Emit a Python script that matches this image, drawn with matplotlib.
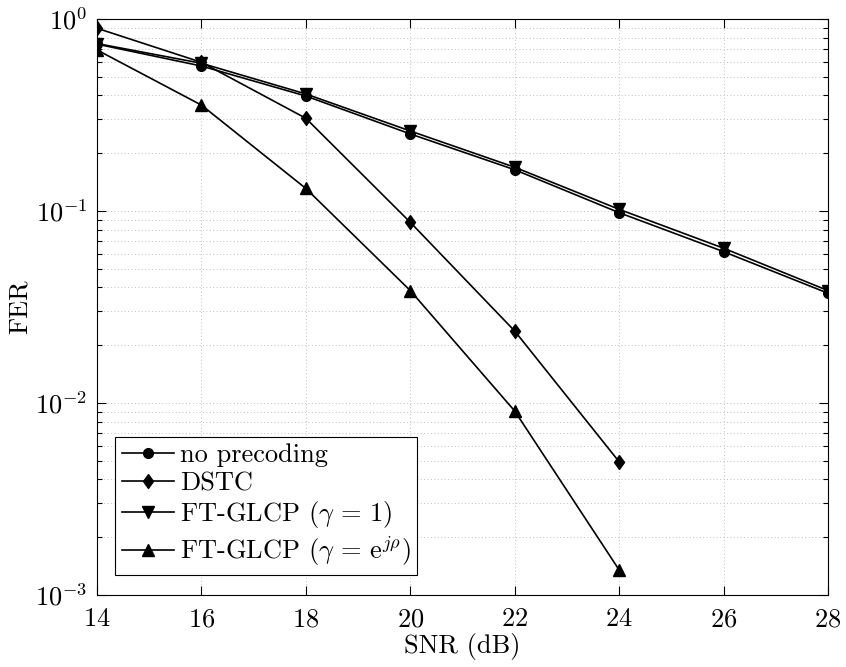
import numpy as np
import matplotlib
matplotlib.use("Agg")
import matplotlib.pyplot as plt
from matplotlib.ticker import LogLocator, NullFormatter

plt.rcParams['font.family'] = 'serif'
plt.rcParams['font.serif'] = ['cmr10', 'DejaVu Serif']
plt.rcParams['mathtext.fontset'] = 'cm'
plt.rcParams['axes.formatter.use_mathtext'] = True
plt.rcParams['font.size'] = 19

snr = [14, 16, 18, 20, 22, 24, 26, 28]
snr_short = [14, 16, 18, 20, 22, 24]

fer_noprec = [0.74, 0.569, 0.397, 0.252, 0.164, 0.098, 0.0614, 0.0373]
fer_dstc = [0.895, 0.595, 0.304, 0.0873, 0.0237, 0.00494]
fer_glcp1 = [0.745, 0.588, 0.407, 0.261, 0.169, 0.102, 0.064, 0.0385]
fer_glcp_rho = [0.69, 0.356, 0.131, 0.0385, 0.00908, 0.00135]

fig = plt.figure(figsize=(8.46, 6.67), dpi=100)
ax = fig.add_axes([0.1147, 0.108, 0.8640, 0.8635])

diamond = [(0, 1), (0.72, 0), (0, -1), (-0.72, 0), (0, 1)]
style = dict(color='k', lw=1.2, mfc='k', mec='k')
ax.semilogy(snr, fer_noprec, marker='o', ms=7, label='no precoding', **style)
ax.semilogy(snr_short, fer_dstc, marker=diamond, ms=10, label='DSTC', **style)
ax.semilogy(snr, fer_glcp1, marker='v', ms=8, label=r'FT-GLCP ($\gamma\,=\,1$)', **style)
ax.semilogy(snr_short, fer_glcp_rho, marker='^', ms=8,
            label=r'FT-GLCP ($\gamma\,=\,\mathrm{e}^{j\rho}$)', **style)

ax.set_xlim(14, 28)
ax.set_ylim(1e-3, 1)
ax.set_xticks(snr)
ax.yaxis.set_minor_locator(LogLocator(base=10, subs=np.arange(2, 10)))
ax.yaxis.set_minor_formatter(NullFormatter())

ax.tick_params(which='both', direction='in', top=True, right=True)
ax.tick_params(which='major', length=6.5, width=0.8)
ax.tick_params(which='minor', length=3.5, width=0.8)
ax.tick_params(axis='x', which='minor', bottom=False, top=False)
ax.tick_params(axis='x', which='major', pad=9)
ax.tick_params(axis='y', which='major', pad=7)

grid_style = dict(ls=(0, (1, 2.5)), color='#c0c0c0', lw=0.7)
ax.grid(True, which='major', axis='both', **grid_style)
ax.grid(True, which='minor', axis='y', **grid_style)

ax.set_xlabel('SNR (dB)', labelpad=1)
ax.set_ylabel('FER', labelpad=2)

leg = ax.legend(loc='lower left', bbox_to_anchor=(0.0246, 0.0347), borderaxespad=0,
                fancybox=False, edgecolor='k', framealpha=1, handlelength=2.0,
                labelspacing=0.15, handletextpad=0.2, borderpad=0.25)
leg.get_frame().set_linewidth(0.8)

fig.savefig('out.png', dpi=100)
